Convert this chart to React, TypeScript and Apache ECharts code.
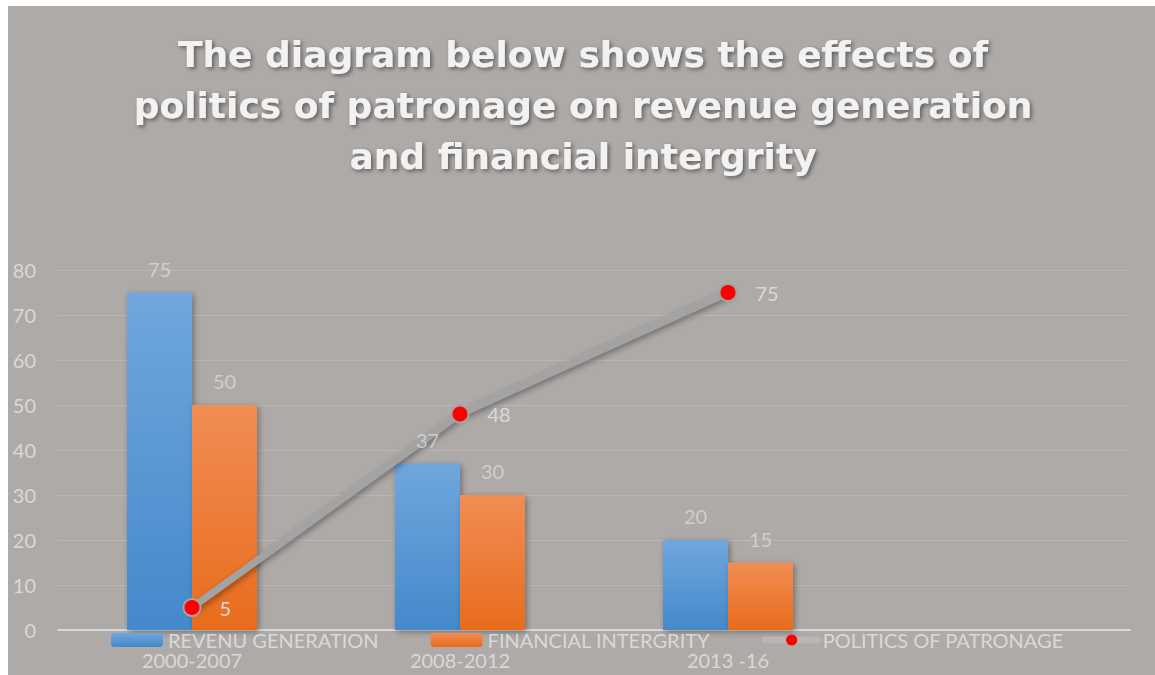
import React, { useEffect, useRef } from "react";
import * as echarts from "echarts";

const categories = ["2000-2007", "2008-2012", "2013 -16", ""];
const revenue = [75, 37, 20, null];
const financial = [50, 30, 15, null];
const patronage = [5, 48, 75, null];
const titleLines = [
  "The diagram below shows the effects of",
  "politics of patronage on revenue generation",
  "and financial intergrity",
];

const LIGHT = "#D9D9D9";
const FONT = "Lato, 'Open Sans', sans-serif";
const BAR_W = 65;

export default function App() {
  const ref = useRef<HTMLDivElement>(null);
  useEffect(() => {
    if (!ref.current) return;
    const chart = echarts.init(ref.current, undefined, { renderer: "svg" });
    const barShadow = {
      shadowColor: "rgba(0,0,0,0.35)",
      shadowBlur: 6,
      shadowOffsetX: 2,
      shadowOffsetY: 2,
    };
    const labelSeries = (name: string, data: (number | null)[], dx: number) => ({
      name,
      type: "scatter",
      data,
      z: 10,
      silent: true,
      symbol: "circle",
      symbolSize: 0,
      itemStyle: { color: "rgba(0,0,0,0)" },
      label: {
        show: true,
        position: "top",
        distance: 14,
        offset: [dx, 0],
        color: LIGHT,
        fontSize: 20,
        fontFamily: FONT,
      },
    });
    chart.setOption({
      animation: false,
      backgroundColor: "#AEAAA8",
      textStyle: { fontFamily: FONT },
      title: {
        text: titleLines.join("\n"),
        left: "center",
        top: 18,
        textStyle: {
          fontFamily: "'DejaVu Sans', sans-serif",
          fontWeight: "bold",
          fontSize: 36,
          lineHeight: 51,
          color: "#F2F2F2",
          textShadowColor: "rgba(0,0,0,0.45)",
          textShadowBlur: 4,
          textShadowOffsetX: 2,
          textShadowOffsetY: 2,
        },
      },
      legend: {
        left: 103,
        top: 624,
        padding: 0,
        itemWidth: 52,
        itemHeight: 14,
        itemGap: 52,
        textStyle: { color: LIGHT, fontSize: 20, fontFamily: FONT, lineHeight: 20 },
        data: [
          "REVENU GENERATION",
          "FINANCIAL INTERGRITY",
          {
            name: "POLITICS OF PATRONAGE",
            lineStyle: { color: "#B9B6B4", width: 7, cap: "round", shadowBlur: 0 },
            itemStyle: { color: "#FF0000", borderWidth: 0 },
          },
        ],
      },
      grid: { left: 50, right: 28, top: 264, bottom: 48, containLabel: false },
      xAxis: {
        type: "category",
        data: categories,
        axisLine: { lineStyle: { color: LIGHT, width: 2 } },
        axisTick: { show: false },
        axisLabel: { color: LIGHT, fontSize: 20, margin: 20, fontFamily: FONT },
      },
      yAxis: {
        type: "value",
        min: 0,
        max: 80,
        interval: 10,
        axisLine: { show: false },
        axisTick: { show: false },
        axisLabel: { color: LIGHT, fontSize: 20, margin: 22, fontFamily: FONT },
        splitLine: { lineStyle: { color: "#BAB6B4", width: 1 } },
      },
      series: [
        {
          name: "REVENU GENERATION",
          type: "bar",
          data: revenue,
          barWidth: BAR_W,
          barGap: "0%",
          itemStyle: {
            color: new echarts.graphic.LinearGradient(0, 0, 0, 1, [
              { offset: 0, color: "#70A7DD" },
              { offset: 1, color: "#4489CB" },
            ]),
            ...barShadow,
          },
        },
        {
          name: "FINANCIAL INTERGRITY",
          type: "bar",
          data: financial,
          barWidth: BAR_W,
          barGap: "0%",
          itemStyle: {
            color: new echarts.graphic.LinearGradient(0, 0, 0, 1, [
              { offset: 0, color: "#F18D55" },
              { offset: 1, color: "#E86C1C" },
            ]),
            ...barShadow,
          },
        },
        {
          name: "POLITICS OF PATRONAGE",
          type: "line",
          data: patronage,
          symbol: "circle",
          symbolSize: 17,
          lineStyle: {
            color: "#A3A3A3",
            width: 7,
            cap: "round",
            shadowColor: "rgba(0,0,0,0.4)",
            shadowBlur: 6,
            shadowOffsetX: 2,
            shadowOffsetY: 2,
          },
          itemStyle: { color: "#FF0000", borderColor: "#A3A3A3", borderWidth: 2 },
          label: { show: true, position: "right", distance: 18, color: LIGHT, fontSize: 20, fontFamily: FONT },
        },
        labelSeries("revenue labels", revenue, -BAR_W / 2),
        labelSeries("financial labels", financial, BAR_W / 2),
      ],
    });
    return () => chart.dispose();
  }, []);
  return (
    <div
      ref={ref}
      style={{ position: "fixed", left: 8, top: 6, width: 1150, height: 672 }}
    />
  );
}
